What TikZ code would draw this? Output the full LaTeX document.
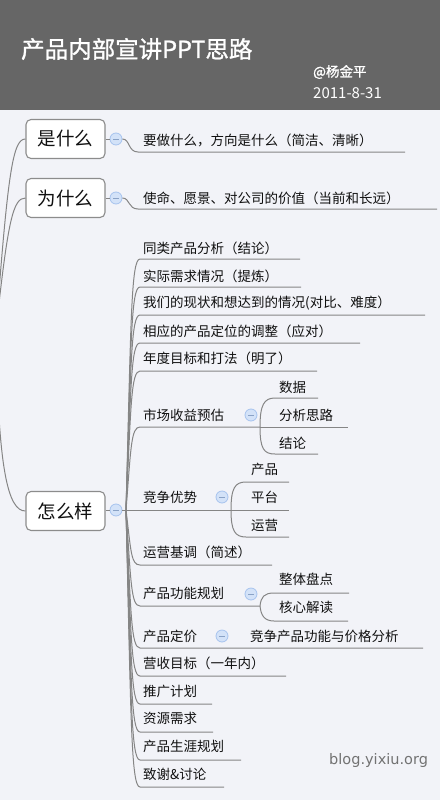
\documentclass[tikz,border=0pt]{standalone}
\usepackage{fontspec}
\setmainfont{Noto Sans CJK SC}
\newfontfamily\blogfont{DejaVu Sans}
\newfontfamily\headfont[FakeBold=1.2]{Noto Sans CJK SC}
\definecolor{headc}{HTML}{666666}
\definecolor{bgc}{HTML}{F2F3F8}
\definecolor{linec}{HTML}{858585}
\definecolor{boxc}{HTML}{8C8C8C}
\definecolor{togf}{HTML}{D3E2F8}
\definecolor{togb}{HTML}{A7C3EE}
\definecolor{togm}{HTML}{8AA2C6}
\definecolor{txtc}{HTML}{101010}
\definecolor{blogc}{HTML}{727272}
\tikzset{
  conn/.style={draw=linec, line width=1pt},
  topic/.style={draw=boxc, fill=white, rounded corners=5pt, line width=1.1pt,
    minimum width=79pt, minimum height=39pt, inner sep=0pt, text=txtc,
    font=\fontsize{18.5}{20}\selectfont},
  lbl/.style={anchor=west, inner sep=0pt, text=txtc, font=\fontsize{13.5}{15}\selectfont},
  tog/.style={circle, draw=togb, fill=togf, minimum size=12pt, inner sep=0pt, line width=0.8pt,
    path picture={\draw[togm, line width=0.9pt]
      ([xshift=-3pt]path picture bounding box.center) -- ([xshift=3pt]path picture bounding box.center);}},
}
\begin{document}
\begin{tikzpicture}[x=1pt, y=-1pt]
\useasboundingbox (0,0) rectangle (440,800);
\clip (0,0) rectangle (440,800);
\fill[bgc] (0,0) rectangle (440,800);
\fill[headc] (0,0) rectangle (440,110);
\node[anchor=west, inner sep=0pt, text=white, font=\headfont\fontsize{23.5}{25}\selectfont] (title) at (21,49) {产品内部宣讲PPT思路};
\node[anchor=west, inner sep=0pt, text=white, font=\headfont\fontsize{13.5}{15}\selectfont] (author) at (313,72) {@杨金平};
\node[anchor=west, inner sep=0pt, text=white, font=\fontsize{15}{16}\selectfont] (date) at (313,93) {2011-8-31};

% root (off-page) curves
\coordinate (root) at (-4,330);
% main topics
\node[topic] (what) at (65.5,139) {是什么};
\node[topic] (why) at (65.5,198) {为什么};
\node[topic] (how) at (65.5,511) {怎么样};
\draw[conn] (root) .. controls (8,170) and (13,139) .. (what.west);
\draw[conn] (root) .. controls (8,220) and (13,198) .. (why.west);
\draw[conn] (root) .. controls (-2,470) and (8,511) .. (how.west);

% toggles
\node[tog] (twhat) at (116,139) {};
\node[tog] (twhy) at (116,198) {};
\node[tog] (thow) at (116,510) {};
\draw[conn] (what.east) -- (twhat.west);
\draw[conn] (why.east) -- (twhy.west);
\draw[conn] (how.east |- thow) -- (thow.west);

% children of what / why
\node[lbl] (wa) at (143,140) {要做什么，方向是什么（简洁、清晰）};
\coordinate (wae) at (405,152);
\draw[conn] (twhat.east) .. controls (130,139) and (128,152) .. (138,152) -- (wae);
\node[lbl] (ya) at (143,198) {使命、愿景、对公司的价值（当前和长远）};
\coordinate (yae) at (437,209);
\draw[conn] (twhy.east) .. controls (130,198) and (128,209) .. (138,209) -- (yae);

% hub of how
\coordinate (hub) at (126,510);
\draw[conn] (thow.east) -- (hub);

% simple branches
\foreach \n/\ty/\ly/\ex/\t in {
  b1/248/259/300/{同类产品分析（结论）},
  b2/276/287/301/{实际需求情况（提炼）},
  b3/303/315/425/{我们的现状和想达到的情况(对比、难度）},
  b4/331/343/360/{相应的产品定位的调整（应对）},
  b5/358/371/317/{年度目标和打法（明了）},
  b8/552/565/272/{运营基调（简述）},
  b11/663/676/286/{营收目标（一年内）},
  b12/691/704/212/{推广计划},
  b13/718/732/213/{资源需求},
  b14/746/760/241/{产品生涯规划},
  b15/774/787/224/{致谢\&讨论}}{
  \node[lbl] (\n) at (143,\ty) {\t};
  \coordinate (\n e) at (\ex,\ly);
  \draw[conn] (hub) .. controls (131,{\ly+0.25*(510-\ly)}) and (131,\ly) .. (140,\ly) -- (\n e);
}

% 市场收益预估
\node[lbl] (b6) at (143,415) {市场收益预估};
\node[tog] (t6) at (251,415) {};
\coordinate (f6) at (260,427);
\draw[conn] (hub) .. controls (131,{427+0.25*(510-427)}) and (131,427) .. (140,427) -- (f6);
\node[lbl] (b6a) at (279,387) {数据};
\node[lbl] (b6b) at (279,415) {分析思路};
\node[lbl] (b6c) at (279,443) {结论};
\coordinate (b6ae) at (318,398);
\coordinate (b6be) at (348,427);
\coordinate (b6ce) at (318,454);
\draw[conn] (f6) .. controls (260,405) and (264,398) .. (275,398) -- (b6ae);
\draw[conn] (f6) -- (b6be);
\draw[conn] (f6) .. controls (260,449) and (264,454) .. (275,454) -- (b6ce);

% 竞争优势
\node[lbl] (b7) at (143,497) {竞争优势};
\node[tog] (t7) at (222,497) {};
\coordinate (f7) at (231,510);
\draw[conn] (hub) -- (f7);
\node[lbl] (b7a) at (251,469) {产品};
\node[lbl] (b7b) at (251,497) {平台};
\node[lbl] (b7c) at (251,525) {运营};
\coordinate (b7ae) at (289,482);
\coordinate (b7be) at (289,510);
\coordinate (b7ce) at (289,537);
\draw[conn] (f7) .. controls (231,488) and (235,482) .. (246,482) -- (b7ae);
\draw[conn] (f7) -- (b7be);
\draw[conn] (f7) .. controls (231,531) and (235,537) .. (246,537) -- (b7ce);

% 产品功能规划
\node[lbl] (b9) at (143,593) {产品功能规划};
\node[tog] (t9) at (251,594) {};
\coordinate (f9) at (260,606);
\draw[conn] (hub) .. controls (131,{606-0.25*(606-510)}) and (131,606) .. (140,606) -- (f9);
\node[lbl] (b9a) at (279,579) {整体盘点};
\node[lbl] (b9b) at (279,607) {核心解读};
\coordinate (b9ae) at (349,593);
\coordinate (b9be) at (348,621);
\draw[conn] (f9) .. controls (261,597) and (264,593) .. (274,593) -- (b9ae);
\draw[conn] (f9) .. controls (261,615) and (264,621) .. (274,621) -- (b9be);

% 产品定价
\node[lbl] (b10) at (143,636) {产品定价};
\node[tog] (t10) at (222,636) {};
\node[lbl] (b10a) at (250,636) {竞争产品功能与价格分析};
\coordinate (b10e) at (423,648);
\draw[conn] (hub) .. controls (131,{648-0.25*(648-510)}) and (131,648) .. (140,648) -- (b10e);

% watermark
\node[anchor=west, inner sep=0pt, text=blogc, font=\blogfont\fontsize{14.5}{16}\selectfont] (blog) at (329,760) {blog.yixiu.org};
\end{tikzpicture}
\end{document}
